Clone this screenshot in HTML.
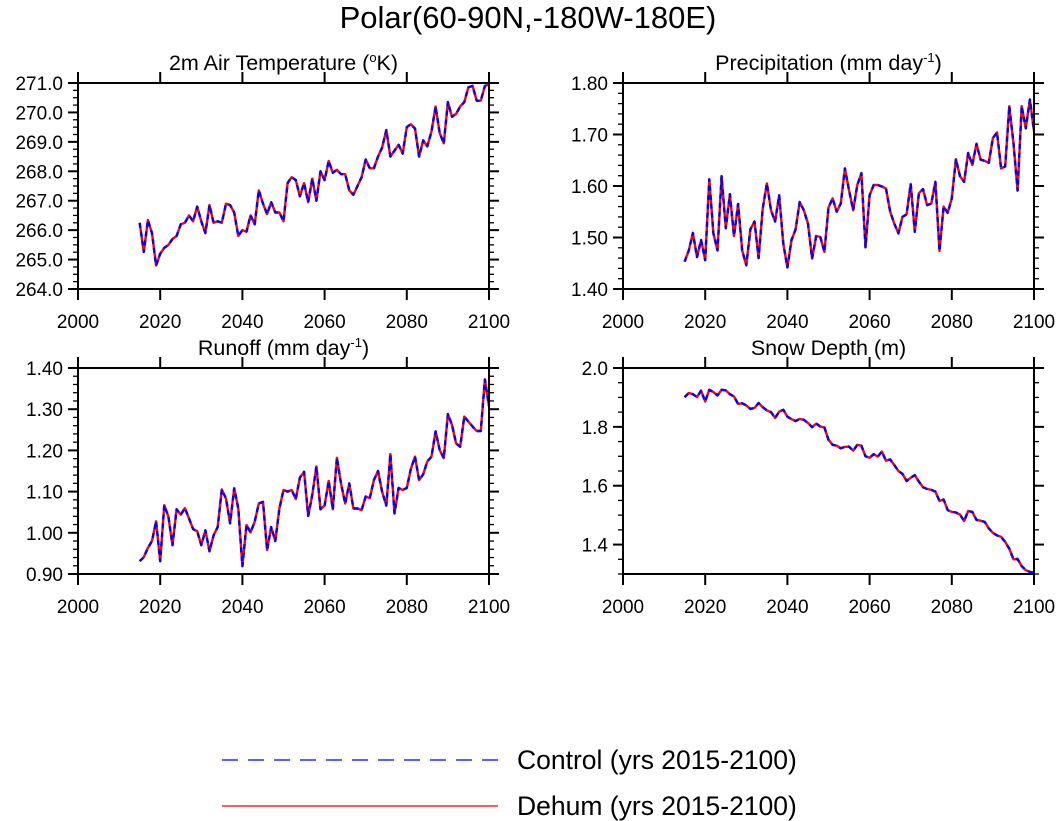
<!DOCTYPE html>
<html><head><meta charset="utf-8"><style>
body{margin:0;background:#fff}
svg{display:block;font-family:"Liberation Sans",Arial,sans-serif}
</style></head><body>
<svg id="c" width="1057" height="821" viewBox="0 0 1057 821" xmlns="http://www.w3.org/2000/svg">
<text x="528" y="28" font-size="31" text-anchor="middle">Polar(60-90N,-180W-180E)</text>
<g>
<line x1="222" y1="760" x2="498" y2="760" stroke="#0000ff" stroke-width="1.2" stroke-dasharray="16,10"/>
<text x="517" y="769" font-size="26.5">Control (yrs 2015-2100)</text>
<line x1="222" y1="806" x2="498" y2="806" stroke="#ff0000" stroke-width="1.2"/>
<text x="517" y="815" font-size="26.5">Dehum (yrs 2015-2100)</text>
</g>
</svg>
<script>
const years=[];for(let y=2015;y<=2100;y++)years.push(y);
const xTicks=[2000,2020,2040,2060,2080,2100];
const tempVals=[266.25,265.26,266.34,265.9,264.8,265.2,265.4,265.5,265.7,265.8,266.2,266.25,266.5,266.3,266.8,266.3,265.9,266.85,266.25,266.3,266.25,266.9,266.85,266.6,265.8,266.0,265.95,266.5,266.2,267.35,266.9,266.55,266.95,266.6,266.6,266.3,267.6,267.8,267.7,267.15,267.6,266.95,267.75,267.0,268.0,267.7,268.35,267.95,268.05,267.9,267.9,267.35,267.2,267.5,267.8,268.4,268.1,268.1,268.5,268.8,269.4,268.5,268.7,268.9,268.6,269.5,269.6,269.45,268.5,269.05,268.85,269.35,270.2,269.3,268.95,270.35,269.85,269.95,270.2,270.35,270.85,270.9,270.4,270.4,270.9,270.95];
const precVals=[1.453,1.475,1.509,1.462,1.495,1.456,1.613,1.508,1.475,1.619,1.518,1.584,1.503,1.565,1.475,1.446,1.516,1.531,1.46,1.556,1.605,1.553,1.531,1.582,1.488,1.442,1.495,1.516,1.569,1.553,1.527,1.459,1.503,1.501,1.472,1.558,1.576,1.55,1.566,1.634,1.592,1.553,1.602,1.625,1.481,1.582,1.602,1.602,1.599,1.595,1.55,1.527,1.508,1.54,1.545,1.604,1.511,1.586,1.594,1.563,1.566,1.608,1.474,1.56,1.548,1.576,1.652,1.619,1.608,1.664,1.641,1.682,1.651,1.649,1.645,1.693,1.704,1.634,1.638,1.755,1.683,1.591,1.755,1.712,1.768,1.706];
const runVals=[0.931,0.941,0.963,0.98,1.028,0.931,1.067,1.039,0.97,1.057,1.044,1.06,1.035,1.009,1.004,0.97,1.006,0.955,0.994,1.014,1.105,1.083,1.023,1.108,1.059,0.919,1.019,1.001,1.027,1.071,1.075,0.958,1.014,0.98,1.059,1.104,1.1,1.104,1.082,1.134,1.148,1.041,1.092,1.161,1.057,1.066,1.126,1.057,1.182,1.12,1.071,1.12,1.059,1.059,1.055,1.088,1.084,1.128,1.15,1.1,1.066,1.191,1.047,1.109,1.104,1.109,1.155,1.185,1.128,1.142,1.173,1.185,1.246,1.201,1.181,1.288,1.262,1.217,1.209,1.282,1.27,1.258,1.247,1.247,1.372,1.307];
const snowVals=[1.901,1.915,1.911,1.901,1.923,1.886,1.926,1.918,1.907,1.926,1.924,1.911,1.903,1.878,1.88,1.873,1.861,1.864,1.881,1.867,1.856,1.85,1.83,1.852,1.858,1.835,1.826,1.82,1.827,1.824,1.813,1.799,1.811,1.801,1.798,1.756,1.739,1.736,1.727,1.732,1.733,1.719,1.739,1.736,1.7,1.695,1.707,1.699,1.716,1.685,1.689,1.67,1.65,1.64,1.616,1.627,1.636,1.614,1.595,1.589,1.586,1.58,1.548,1.553,1.517,1.511,1.509,1.502,1.48,1.514,1.511,1.484,1.481,1.477,1.455,1.44,1.431,1.426,1.409,1.386,1.35,1.351,1.327,1.313,1.307,1.305];
const tempTicks=[264,265,266,267,268,269,270,271];
const precTicks=[1.4,1.5,1.6,1.7,1.8];
const runTicks=[0.9,1.0,1.1,1.2,1.3,1.4];
const snowTicks=[1.4,1.6,1.8,2.0];

const NS="http://www.w3.org/2000/svg";
const svg=document.getElementById('c');
function mk(tag,attrs,parent){const e=document.createElementNS(NS,tag);for(const k in attrs)e.setAttribute(k,attrs[k]);(parent||svg).appendChild(e);return e;}

function panel(o){
  const g=mk('g',{});
  
  
  const L=o.x,R=o.x+411,T=o.y,B=o.y+206;
  const xs=v=>L+(v-2000)/100*(R-L);
  const ys=v=>B-(v-o.ymin)/(o.ymax-o.ymin)*(B-T);
  const t=mk('text',{x:(L+R)/2,y:T-13,'font-size':21.5,'text-anchor':'middle'},g);
  
  
  t.innerHTML=o.title;
  for(let v=o.ymin;v<=o.ymax+1e-9;v+=o.minor){
    const yy=ys(v);
    mk('line',{x1:L-5,y1:yy,x2:L,y2:yy,stroke:'#000','stroke-width':1.3},g);
    mk('line',{x1:R,y1:yy,x2:R+5,y2:yy,stroke:'#000','stroke-width':1.3},g);
  }
  o.ticks.forEach(v=>{
    const yy=ys(v);
    mk('line',{x1:L-10,y1:yy,x2:L,y2:yy,stroke:'#000','stroke-width':2},g);
    mk('line',{x1:R,y1:yy,x2:R+10,y2:yy,stroke:'#000','stroke-width':2},g);
    const lb=mk('text',{x:L-15,y:yy+7,'font-size':19,'text-anchor':'end'},g);
    
    
    lb.textContent=v.toFixed(o.dec);
  });
  xTicks.forEach(v=>{
    const xx=xs(v);
    mk('line',{x1:xx,y1:B,x2:xx,y2:B+11,stroke:'#000','stroke-width':2},g);
    mk('line',{x1:xx,y1:T-11,x2:xx,y2:T,stroke:'#000','stroke-width':2},g);
    const lb=mk('text',{x:xx,y:B+39,'font-size':19,'text-anchor':'middle'},g);
    
    
    lb.textContent=v;
  });
  const pts=years.map((y,i)=>xs(y).toFixed(1)+','+ys(o.vals[i]).toFixed(1)).join(' ');
  const r=mk('polyline',{points:pts,fill:'none',stroke:'#ff0000','stroke-width':2.4,'stroke-linejoin':'round'},g);
  
  
  const b=mk('polyline',{points:pts,fill:'none',stroke:'#0000ff','stroke-width':2.4,'stroke-dasharray':'5,4','stroke-linejoin':'round'},g);
  
  
  const f=mk('rect',{x:L,y:T,width:R-L,height:B-T,fill:'none',stroke:'#000','stroke-width':2},g);
  
  
}
panel({name:'temperature-panel',x:78,y:83,ymin:264,ymax:271,minor:0.25,ticks:tempTicks,dec:1,vals:tempVals,title:'2m Air Temperature (<tspan font-size="13" dy="-8">o</tspan><tspan dy="8">K)</tspan>'});
panel({name:'precipitation-panel',x:623,y:83,ymin:1.4,ymax:1.8,minor:0.02,ticks:precTicks,dec:2,vals:precVals,title:'Precipitation (mm day<tspan font-size="13" dy="-8">-1</tspan><tspan dy="8">)</tspan>'});
panel({name:'runoff-panel',x:78,y:368,ymin:0.9,ymax:1.4,minor:0.02,ticks:runTicks,dec:2,vals:runVals,title:'Runoff (mm day<tspan font-size="13" dy="-8">-1</tspan><tspan dy="8">)</tspan>'});
panel({name:'snow-depth-panel',x:623,y:368,ymin:1.3,ymax:2.0,minor:0.05,ticks:snowTicks,dec:1,vals:snowVals,title:'Snow Depth (m)'});
</script>
</body></html>
